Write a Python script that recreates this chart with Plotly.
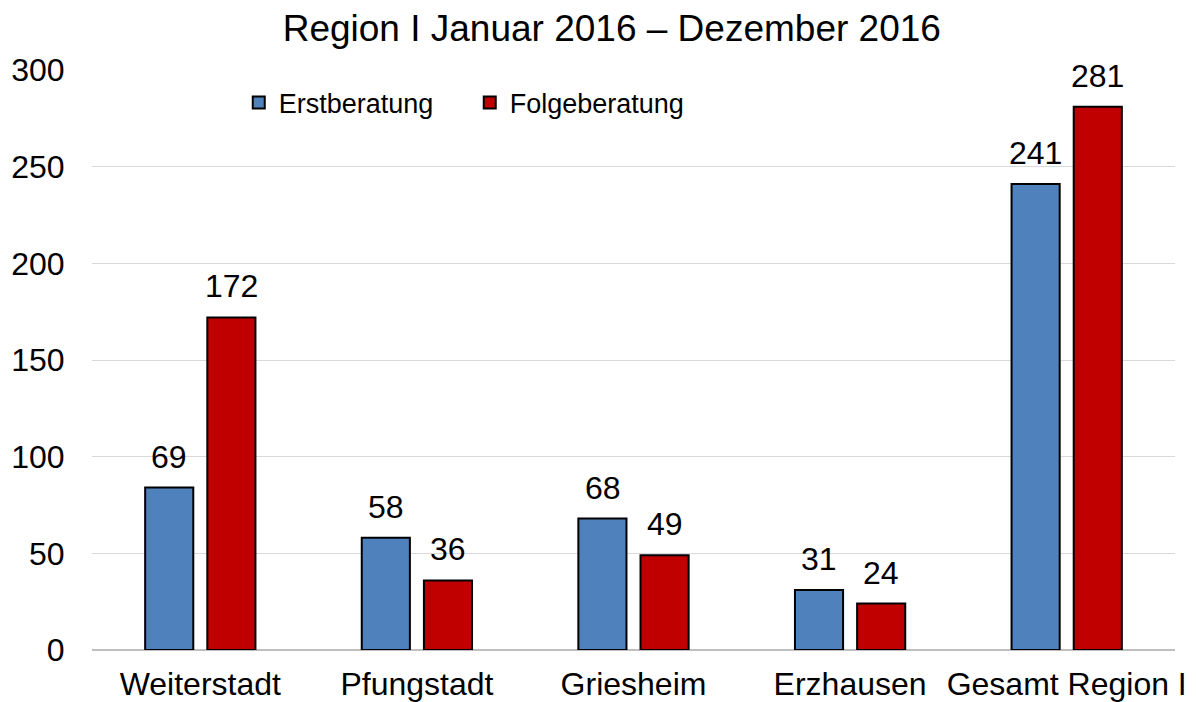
import plotly.graph_objects as go

categories = ["Weiterstadt", "Pfungstadt", "Griesheim", "Erzhausen", "Gesamt Region I"]
erst_values = [84, 58, 68, 31, 241]
folge_values = [172, 36, 49, 24, 281]
erst_labels = ["69", "58", "68", "31", "241"]
folge_labels = ["172", "36", "49", "24", "281"]
y_ticks = [0, 50, 100, 150, 200, 250, 300]

FONT = "Liberation Sans, Arial, sans-serif"

fig = go.Figure()
fig.add_trace(go.Bar(
    name="Erstberatung", x=categories, y=erst_values,
    marker=dict(color="#4f81bd", line=dict(color="#000000", width=2)),
))
fig.add_trace(go.Bar(
    name="Folgeberatung", x=categories, y=folge_values,
    marker=dict(color="#c00000", line=dict(color="#000000", width=2)),
))

# data labels above bars (grouped offsets of half a bar slot)
for vals, labs, shift in ((erst_values, erst_labels, -31), (folge_values, folge_labels, 31)):
    for cat, v, lab in zip(categories, vals, labs):
        fig.add_annotation(x=cat, y=v, text=lab, showarrow=False, xref="x", yref="y",
                           xanchor="center", yanchor="bottom", xshift=shift, yshift=11,
                           font=dict(size=32, color="#000000", family=FONT))

fig.update_layout(
    width=1198, height=702,
    margin=dict(l=84, r=31, t=62, b=60),
    paper_bgcolor="white", plot_bgcolor="white",
    barmode="group", bargap=0.426, bargroupgap=0.226,
    title=dict(text="Region I Januar 2016 – Dezember 2016", x=0.504, xanchor="center",
               y=0.9715, yanchor="middle",
               font=dict(size=37, color="#000000", family=FONT)),
    font=dict(family=FONT, color="#000000"),
    legend=dict(orientation="h", x=0.1355, y=0.943, xanchor="left", yanchor="middle",
                font=dict(size=27, family=FONT), entrywidth=186, entrywidthmode="pixels",
                bgcolor="rgba(0,0,0,0)", itemwidth=30),
)
fig.update_xaxes(
    automargin=False,
    showgrid=False, showline=False, ticks="outside", ticklen=6, tickcolor="rgba(0,0,0,0)",
    tickfont=dict(size=32, family=FONT, color="#000000"),
)
fig.update_yaxes(
    automargin=False,
    range=[0, 300], tickvals=y_ticks, showgrid=True, gridcolor="#d9d9d9", gridwidth=1,
    zeroline=True, zerolinecolor="#bfbfbf", zerolinewidth=1.5, showline=False,
    ticks="outside", ticklen=20, tickcolor="rgba(0,0,0,0)",
    tickfont=dict(size=32, family=FONT, color="#000000"),
)

fig.write_html("out.html")
